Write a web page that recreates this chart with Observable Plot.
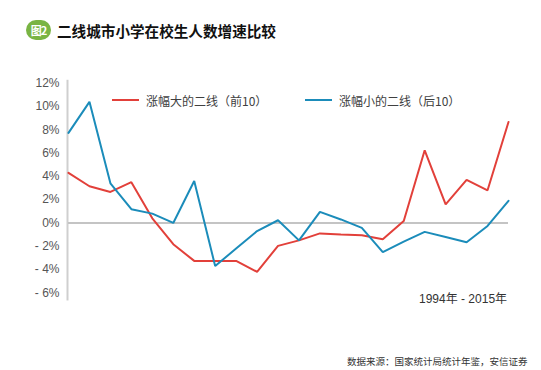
<!DOCTYPE html>
<html><head><meta charset="utf-8">
<script src="https://cdn.jsdelivr.net/npm/d3@7"></script>
<script src="https://cdn.jsdelivr.net/npm/@observablehq/plot@0.6"></script>
<style>
body{margin:0;background:#fff;font-family:"Liberation Sans",Arial,"Noto Sans CJK SC",sans-serif;}
#wrap{position:relative;width:541px;height:370px;overflow:hidden;background:#fff;}
#title{position:absolute;left:26px;top:19px;height:22px;display:flex;align-items:center;}
#badge{width:25px;height:20px;border-radius:10px;background:#79b443;color:#fff;font-size:11px;font-weight:bold;display:flex;align-items:center;justify-content:center;font-family:"Noto Sans CJK SC",sans-serif;letter-spacing:-1px;}
#ttext{margin-left:6px;font-size:14.6px;font-weight:bold;color:#111;font-family:"Noto Sans CJK SC",sans-serif;}
#chart{position:absolute;left:0;top:60px;}
.leg{position:absolute;top:92px;height:16px;display:flex;align-items:center;font-size:12px;color:#404040;font-family:"Noto Sans CJK SC",sans-serif;}
.leg span.l{display:inline-block;width:27px;height:2px;margin-right:7px;}
#period{position:absolute;left:419px;top:289px;font-size:12px;color:#333;font-family:"Liberation Sans","Noto Sans CJK SC",sans-serif;}
#source{position:absolute;left:347px;top:354px;font-size:9.5px;color:#333;font-family:"Noto Sans CJK SC",sans-serif;}
</style></head>
<body>
<div id="wrap">
  <div id="title"><div id="badge">图2</div><div id="ttext">二线城市小学在校生人数增速比较</div></div>
  <div id="chart"></div>
  <div class="leg" style="left:112px"><span class="l" style="background:#e2403a"></span><span id="leg1"></span></div>
  <div class="leg" style="left:305px"><span class="l" style="background:#1b8cba"></span><span id="leg2"></span></div>
  <div id="period">1994年 - 2015年</div>
  <div id="source">数据来源：国家统计局统计年鉴，安信证券</div>
</div>
<script>
const years = d3.range(1994, 2016);
const seriesNames = ["涨幅大的二线（前10）", "涨幅小的二线（后10）"];
const topTen = [4.3, 3.15, 2.66, 3.5, 0.4, -1.83, -3.26, -3.26, -3.26, -4.2, -1.97, -1.5, -0.9, -1.0, -1.05, -1.4, 0.17, 6.24, 1.6, 3.7, 2.8, 8.67];
const bottomTen = [7.73, 10.4, 3.4, 1.18, 0.8, 0.0, 3.6, -3.7, -2.2, -0.7, 0.23, -1.5, 0.95, 0.3, -0.43, -2.5, -1.6, -0.77, -1.2, -1.66, -0.26, 1.9];
const yTicks = [-6, -4, -2, 0, 2, 4, 6, 8, 10, 12];
const colors = ["#e2403a", "#1b8cba"];

document.getElementById("leg1").textContent = seriesNames[0];
document.getElementById("leg2").textContent = seriesNames[1];

const data = [];
years.forEach((y, i) => {
  data.push({year: y, value: topTen[i], series: seriesNames[0]});
  data.push({year: y, value: bottomTen[i], series: seriesNames[1]});
});

const chart = Plot.plot({
  width: 541,
  height: 280,
  marginLeft: 68,
  marginRight: 33,
  marginTop: 22.7,
  marginBottom: 47.7,
  style: {fontFamily: "'Liberation Sans', Arial, sans-serif", fontSize: "12px", color: "#555", background: "transparent", overflow: "visible"},
  x: {domain: [1994, 2015], axis: null},
  y: {domain: [-6, 12], ticks: yTicks, tickSize: 0, tickPadding: 9,
      tickFormat: d => d < 0 ? "- " + (-d) + "%" : d + "%", label: null},
  color: {domain: seriesNames, range: colors},
  marks: [
    Plot.ruleX([1994], {y1: -6.7, y2: 12.25, stroke: "#cfcfcf", strokeWidth: 2, dx: -1, clip: false}),
    Plot.ruleY([0], {x1: 1994, x2: 2015, stroke: "#c4c4c4", strokeWidth: 2}),
    Plot.line(data, {x: "year", y: "value", z: "series", stroke: "series", strokeWidth: 2, strokeLinejoin: "miter"})
  ]
});
document.getElementById("chart").appendChild(chart);
</script>
</body></html>
